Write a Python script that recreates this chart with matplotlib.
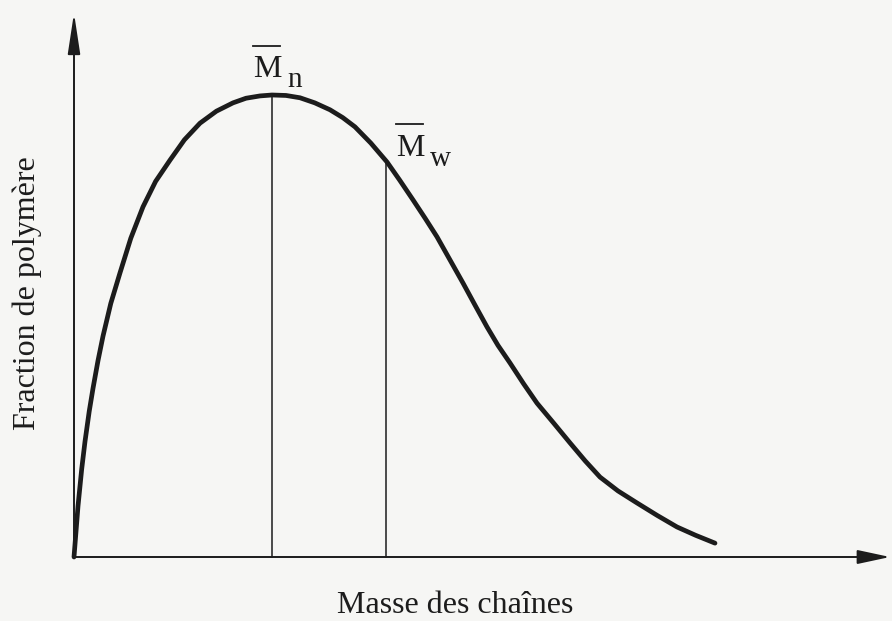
import matplotlib
matplotlib.use("Agg")
import matplotlib.pyplot as plt
from matplotlib.patches import FancyArrowPatch

# ---- data (arbitrary units) ----
masse = [0.0, 0.5, 0.96, 1.375, 1.9, 2.375, 3.0, 3.625, 4.6, 5.75, 7.1, 8.625,
         10.2, 12.0, 13.8, 15.75, 17.8, 19.875, 21.5, 23.25, 24.75, 26.5, 28.25,
         30.1, 32.0, 33.6, 35.125, 37.1, 39.125, 40.7, 42.375, 43.9, 45.375,
         47.0, 48.625, 50.1, 51.625, 53.0, 54.5, 56.2, 57.875, 60.0, 62.0,
         63.9, 65.75, 68.0, 70.375, 72.9, 75.375, 77.7, 80.125]
fraction = [0.0, 0.110, 0.190, 0.250, 0.315, 0.365, 0.425, 0.478, 0.549, 0.615,
            0.690, 0.758, 0.813, 0.859, 0.903, 0.939, 0.965, 0.983, 0.993, 0.998,
            1.0, 0.999, 0.994, 0.983, 0.968, 0.951, 0.931, 0.896, 0.855, 0.816,
            0.773, 0.733, 0.693, 0.643, 0.593, 0.546, 0.498, 0.458, 0.420, 0.375,
            0.333, 0.289, 0.247, 0.208, 0.173, 0.143, 0.117, 0.090, 0.065, 0.047,
            0.030]
Mn_x, Mn_top = 24.75, 1.0
Mw_x, Mw_top = 39.0, 0.857
xlabel = "Masse des chaînes"
ylabel = "Fraction de polymère"

BG = "#f6f6f4"
INK = "#1c1c1c"
FONT = "Liberation Serif"
FS = 23

fig = plt.figure(figsize=(8.92, 6.21), dpi=100, facecolor=BG)
ax = fig.add_axes([0, 0, 1, 1])
ax.set_facecolor(BG)
# px -> data: x = (px-74)/8 ; y = (557-py)/462
ax.set_xlim(-74 / 8, (892 - 74) / 8)
ax.set_ylim(-(621 - 557) / 462, 557 / 462)
ax.axis("off")

# axes with arrows
ax.add_patch(FancyArrowPatch((0, 0), (0, 1.1775), arrowstyle="-|>,head_length=25,head_width=3.8",
                             mutation_scale=1, lw=1.4, color=INK, shrinkA=0, shrinkB=0))
ax.add_patch(FancyArrowPatch((0, 0), (102.0, 0), arrowstyle="-|>,head_length=20,head_width=4.3",
                             mutation_scale=1, lw=1.4, color=INK, shrinkA=0, shrinkB=0))

# distribution curve
ax.plot(masse, fraction, color=INK, lw=3.4, solid_capstyle="round", solid_joinstyle="round")

# Mn and Mw vertical lines
ax.plot([Mn_x, Mn_x], [0, Mn_top], color=INK, lw=1.1)
ax.plot([Mw_x, Mw_x], [0, Mw_top], color=INK, lw=1.1)

def lab(x0, y0, dx, dy, s, size=FS):
    ax.annotate(s, xy=(x0, y0), xytext=(dx, dy), textcoords="offset pixels",
                ha="left", va="baseline", fontsize=size, family=FONT, color=INK)

# Mn label
lab(Mn_x, Mn_top, -19, 18, "M")
lab(Mn_x, Mn_top, 15, 8, "n", size=21)
ax.plot([Mn_x - 19 / 8, Mn_x + 8 / 8], [Mn_top + 49 / 462] * 2, color=INK, lw=1.3)
# Mw label
lab(Mw_x, Mw_top, 10, 5, "M")
lab(Mw_x, Mw_top, 44, -5, "w", size=21)
ax.plot([Mw_x + 10 / 8, Mw_x + 37 / 8], [Mw_top + 37 / 462] * 2, color=INK, lw=1.3)

# axis labels
ax.text((455 - 74) / 8, -(613 - 557) / 462, xlabel, ha="center", va="baseline",
        fontsize=FS, family=FONT, color=INK)
ax.text((27 - 74) / 8, (557 - 293) / 462, ylabel, ha="center", va="center", rotation=90,
        fontsize=FS, family=FONT, color=INK)

fig.savefig("out.png", dpi=100, facecolor=BG)
